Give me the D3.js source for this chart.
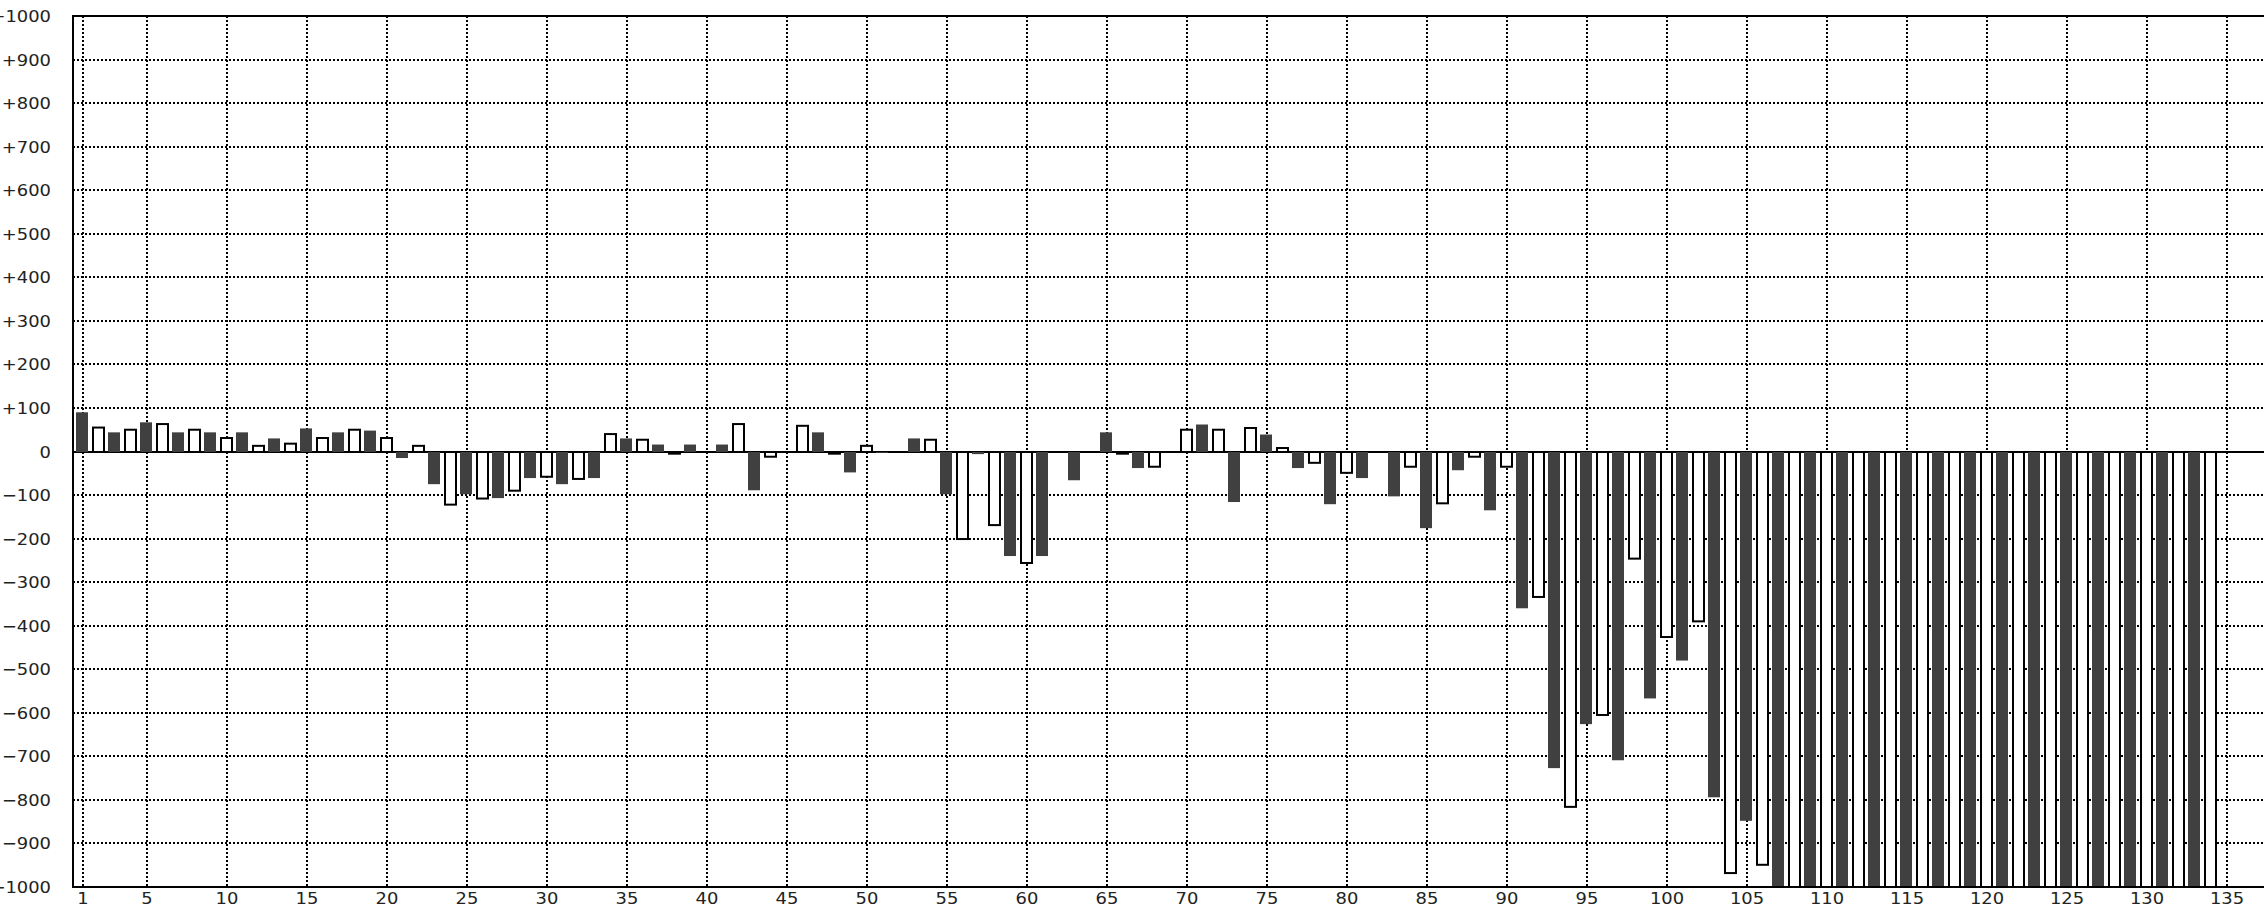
<!DOCTYPE html>
<html>
<head>
<meta charset="utf-8">
<script src="https://cdn.jsdelivr.net/npm/d3@7"></script>
<style>
  html, body { margin: 0; padding: 0; background: #fff; overflow: hidden; }
  svg { display: block; }
  text { font-family: "DejaVu Sans", sans-serif; font-size: 16px; fill: #222; }
</style>
</head>
<body>
<svg id="chart" width="2264" height="906"></svg>
<script>
// ---- data ----
const categories = d3.range(1, 136);
const values = [
  90, 55, 44, 50, 67, 63, 44, 50, 44, 31,
  44, 13, 30, 18, 53, 31, 44, 50, 48, 31,
  -15, 13, -75, -122, -98, -108, -107, -90, -61, -58,
  -75, -63, -61, 40, 30, 27, 16, -5, 16, 0,
  16, 63, -89, -12, 0, 59, 44, -5, -48, 13,
  -3, 0, 30, 27, -98, -201, -6, -169, -240, -256,
  -240, 0, -66, 0, 44, -5, -38, -35, 0, 50,
  62, 50, -116, 54, 39, 8, -38, -26, -121, -49,
  -61, 0, -103, -35, -176, -119, -43, -12, -135, -35,
  -360, -334, -727, -816, -626, -605, -709, -246, -567, -426,
  -480, -390, -794, -968, -848, -949, -1100, -1150, -1120, -1200,
  -1180, -1250, -1220, -1300, -1280, -1350, -1320, -1400, -1380, -1450,
  -1420, -1500, -1480, -1550, -1520, -1600, -1580, -1650, -1620, -1700,
  -1680, -1750, -1720, -1800, 0
];
const xTickLabels = [1, 5, 10, 15, 20, 25, 30, 35, 40, 45, 50, 55, 60, 65, 70, 75, 80, 85, 90, 95, 100, 105, 110, 115, 120, 125, 130, 135];
const yTickValues = [1000, 900, 800, 700, 600, 500, 400, 300, 200, 100, 0, -100, -200, -300, -400, -500, -600, -700, -800, -900, -1000];

// ---- layout ----
const svg = d3.select("#chart");
const W = 2264;
const plotLeft = 73, plotTop = 16, plotBottom = 887;
const textStretch = 1.12;

const x = d3.scaleLinear().domain([1, 135]).range([83, 2227]);
const y = d3.scaleLinear().domain([-1000, 1000]).range([plotBottom, plotTop]);

const fmt = v => v > 0 ? "+" + v : (v < 0 ? "\u2212" + Math.abs(v) : "0");

// clip
svg.append("defs").append("clipPath").attr("id", "plotclip")
  .append("rect").attr("x", plotLeft).attr("y", plotTop).attr("width", W - plotLeft).attr("height", plotBottom - plotTop);

// dotted grid
const grid = svg.append("g");
grid.selectAll("line.h").data(yTickValues.filter(v => v !== 0 && Math.abs(v) !== 1000))
  .join("line")
  .attr("class", "h")
  .attr("x1", plotLeft).attr("x2", W)
  .attr("y1", d => Math.round(y(d))).attr("y2", d => Math.round(y(d)))
  .attr("stroke", "#000").attr("stroke-width", 2).attr("stroke-dasharray", "2,2");
grid.selectAll("line.v").data(xTickLabels)
  .join("line")
  .attr("class", "v")
  .attr("x1", d => x(d)).attr("x2", d => x(d))
  .attr("y1", plotTop).attr("y2", plotBottom)
  .attr("stroke", "#000").attr("stroke-width", 2).attr("stroke-dasharray", "2,2");

// zero line
svg.append("line")
  .attr("x1", plotLeft).attr("x2", W)
  .attr("y1", Math.round(y(0))).attr("y2", Math.round(y(0)))
  .attr("stroke", "#000").attr("stroke-width", 2);

// bars
const data = categories.map((c, i) => ({ c, v: values[i] })).filter(d => d.v !== 0);
const bars = svg.append("g").attr("clip-path", "url(#plotclip)");
bars.selectAll("rect").data(data).join("rect")
  .attr("x", d => d.c % 2 === 1 ? x(d.c) - 7 : x(d.c) - 6)
  .attr("width", d => d.c % 2 === 1 ? 12 : 11)
  .attr("y", d => Math.min(y(d.v), Math.round(y(0))))
  .attr("height", d => Math.abs(y(d.v) - Math.round(y(0))))
  .attr("fill", d => d.c % 2 === 1 ? "#404040" : "#fff")
  .attr("stroke", d => d.c % 2 === 1 ? "none" : "#000")
  .attr("stroke-width", 2);

// frame lines
svg.append("line").attr("x1", plotLeft).attr("x2", W).attr("y1", plotTop).attr("y2", plotTop)
  .attr("stroke", "#000").attr("stroke-width", 2);
svg.append("line").attr("x1", plotLeft).attr("x2", W).attr("y1", plotBottom).attr("y2", plotBottom)
  .attr("stroke", "#000").attr("stroke-width", 2);
svg.append("line").attr("x1", plotLeft).attr("x2", plotLeft).attr("y1", plotTop - 1).attr("y2", plotBottom + 1)
  .attr("stroke", "#000").attr("stroke-width", 2);

// y labels
svg.append("g").selectAll("text").data(yTickValues).join("text")
  .attr("transform", d => `translate(51,${y(d) + 6}) scale(${textStretch},1)`)
  .attr("text-anchor", "end")
  .text(d => fmt(d));

// x labels
svg.append("g").selectAll("text").data(xTickLabels).join("text")
  .attr("transform", d => `translate(${x(d)},904) scale(${textStretch},1)`)
  .attr("text-anchor", "middle")
  .text(d => d);
</script>
</body>
</html>
